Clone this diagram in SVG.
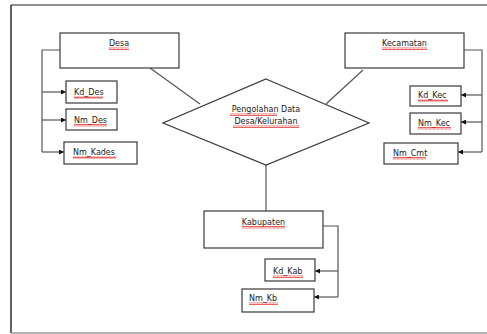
<svg xmlns="http://www.w3.org/2000/svg" width="487" height="334" viewBox="0 0 487 334">
<style>
.box{fill:#fff;stroke:#3a3a3a;stroke-width:1.2}
.ln{fill:none;stroke:#555;stroke-width:1.2}
.t{font-family:"DejaVu Sans",Verdana,sans-serif;font-size:8px;fill:#222}
.c{text-anchor:middle}
.sq{fill:url(#wave)}
</style>
<defs>
<pattern id="wave" width="4" height="3" patternUnits="userSpaceOnUse">
<polyline points="0,0.5 1,2.5 2,0.5 3,2.5 4,0.5" fill="none" stroke="#e02020" stroke-width="0.7"/>
</pattern>
<marker id="ah" viewBox="0 0 6 6" refX="6" refY="3" markerWidth="5" markerHeight="5" orient="auto" markerUnits="userSpaceOnUse">
<path d="M0,0 L6,3 L0,6 Z" fill="#111"/>
</marker>
</defs>
<rect x="0" y="0" width="487" height="334" fill="#fff"/>
<g id="frame">
<line x1="11" y1="5" x2="487" y2="5" stroke="#222" stroke-width="1.2"/>
<line x1="11" y1="5" x2="11" y2="333" stroke="#222" stroke-width="1.4"/>
<line x1="11" y1="333" x2="487" y2="333" stroke="#999" stroke-width="1.4"/>
</g>
<g id="connectors">
<path class="ln" d="M150,68 L200,104"/>
<path class="ln" d="M363,70 L326,104"/>
<path class="ln" d="M266,165 L266,211"/>
<path class="ln" d="M60,50 H42 V152"/>
<path class="ln" d="M42,92 H66" marker-end="url(#ah)"/>
<path class="ln" d="M42,120 H66" marker-end="url(#ah)"/>
<path class="ln" d="M42,152 H64" marker-end="url(#ah)"/>
<path class="ln" d="M464,50 H482 V152"/>
<path class="ln" d="M482,95 H461" marker-end="url(#ah)"/>
<path class="ln" d="M482,122 H461" marker-end="url(#ah)"/>
<path class="ln" d="M482,152 H458" marker-end="url(#ah)"/>
<path class="ln" d="M323,226 H338 V297"/>
<path class="ln" d="M338,271 H315" marker-end="url(#ah)"/>
<path class="ln" d="M338,297 H314" marker-end="url(#ah)"/>
</g>
<g id="desa">
<rect class="box" x="60" y="33" width="119" height="35"/>
<text class="t c" x="119" y="46">Desa</text>
<rect class="sq" x="109" y="47" width="20" height="3"/>
</g>
<g id="kd_des">
<rect class="box" x="66" y="81" width="51" height="22"/>
<text class="t" x="74" y="95">Kd_Des</text>
<rect class="sq" x="74" y="96" width="29" height="3"/>
</g>
<g id="nm_des">
<rect class="box" x="66" y="109" width="51" height="21"/>
<text class="t" x="74" y="123">Nm_Des</text>
<rect class="sq" x="74" y="124" width="33" height="3"/>
</g>
<g id="nm_kades">
<rect class="box" x="64" y="142" width="73" height="22"/>
<text class="t" x="73" y="155">Nm_Kades</text>
<rect class="sq" x="73" y="156" width="43" height="3"/>
</g>
<g id="kecamatan">
<rect class="box" x="345" y="33" width="119" height="35"/>
<text class="t c" x="404.5" y="46">Kecamatan</text>
<rect class="sq" x="382" y="47" width="45" height="3"/>
</g>
<g id="kd_kec">
<rect class="box" x="410" y="86" width="51" height="20"/>
<text class="t" x="418" y="98">Kd_Kec</text>
<rect class="sq" x="418" y="99" width="30" height="3"/>
</g>
<g id="nm_kec">
<rect class="box" x="410" y="113" width="51" height="21"/>
<text class="t" x="418" y="126">Nm_Kec</text>
<rect class="sq" x="418" y="127" width="33" height="3"/>
</g>
<g id="nm_cmt">
<rect class="box" x="384" y="143" width="74" height="21"/>
<text class="t" x="393" y="156">Nm_Cmt</text>
<rect class="sq" x="393" y="157" width="33" height="3"/>
</g>
<g id="pengolahan">
<polygon class="box" points="266,79 369,123 266,165 163,123"/>
<text class="t c" x="266" y="112">Pengolahan Data</text>
<text class="t c" x="266" y="124">Desa/Kelurahan</text>
<rect class="sq" x="230" y="113" width="47" height="3"/>
<rect class="sq" x="233" y="125" width="66" height="3"/>
</g>
<g id="kabupaten">
<rect class="box" x="204" y="211" width="119" height="37"/>
<text class="t c" x="263.5" y="225">Kabupaten</text>
<rect class="sq" x="242" y="226" width="43" height="3"/>
</g>
<g id="kd_kab">
<rect class="box" x="265" y="259" width="50" height="22"/>
<text class="t" x="273" y="274">Kd_Kab</text>
<rect class="sq" x="273" y="275" width="30" height="3"/>
</g>
<g id="nm_kb">
<rect class="box" x="242" y="289" width="72" height="23"/>
<text class="t" x="249" y="301">Nm_Kb</text>
<rect class="sq" x="249" y="302" width="29" height="3"/>
</g>
</svg>
